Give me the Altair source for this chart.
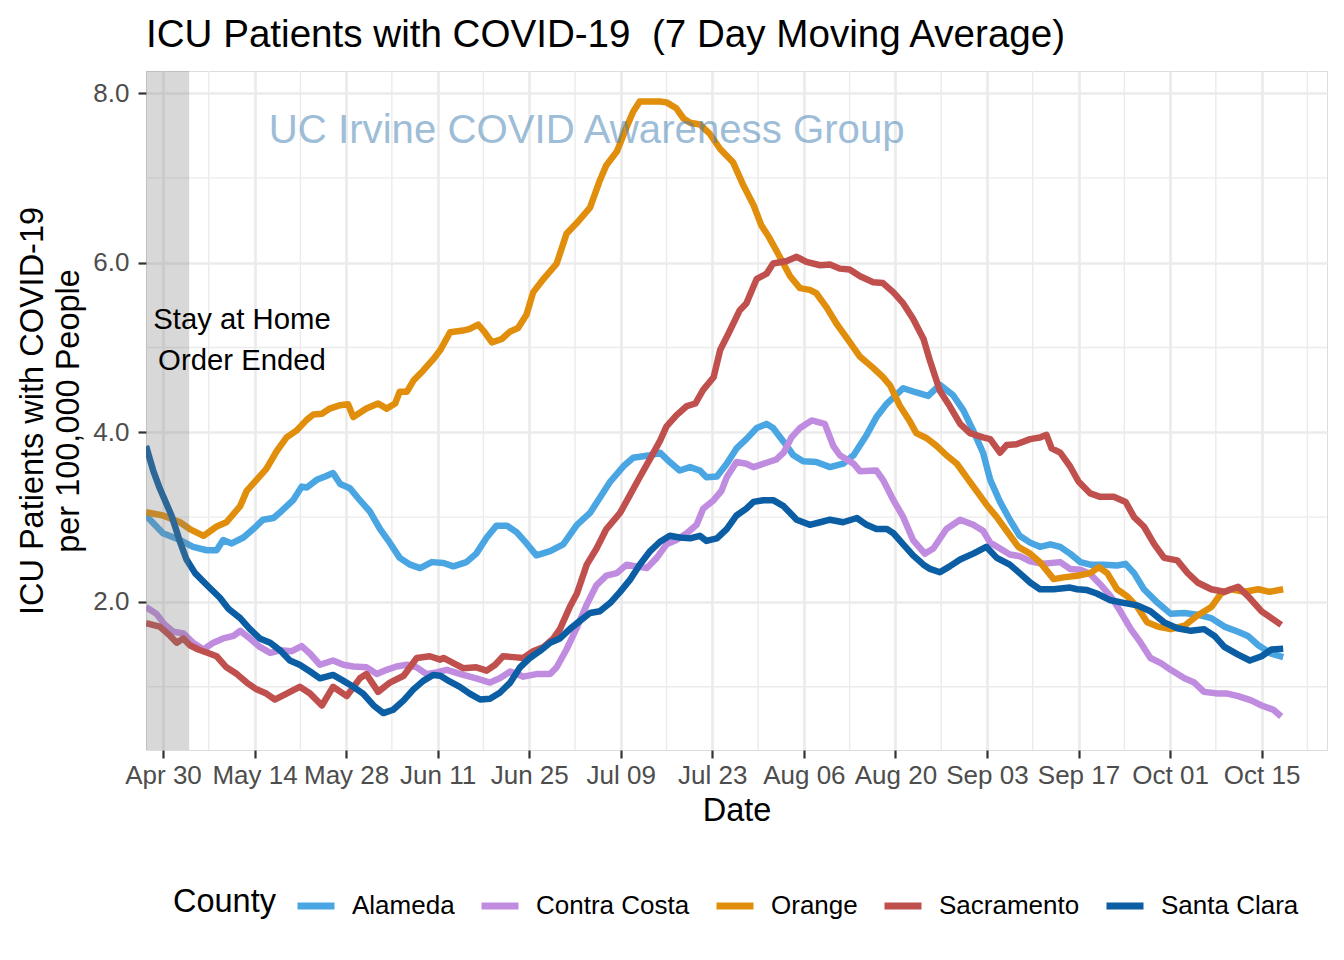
import altair as alt
import pandas as pd

BASE = pd.Timestamp("2020-04-30")

counties = ["Alameda", "Contra Costa", "Orange", "Sacramento", "Santa Clara"]
colors = ["#4AA5E3", "#C08CE0", "#E08E0B", "#C0504D", "#0B5EA3"]

# (days after Apr 30 2020, ICU patients per 100k, 7-day average)
alameda = [(-2.6, 3.02), (0.0, 2.81), (2.6, 2.73), (4.6, 2.65), (6.7, 2.61), (8.2, 2.61), (9.2, 2.73),
           (10.5, 2.69), (12.3, 2.76), (13.8, 2.86), (15.3, 2.97), (16.9, 2.99), (18.1, 3.07), (19.9, 3.2),
           (21.2, 3.36), (22.0, 3.35), (23.5, 3.44), (24.8, 3.48), (26.0, 3.52), (27.1, 3.39), (28.6, 3.34),
           (30.1, 3.2), (31.6, 3.07), (33.2, 2.86), (34.4, 2.73), (36.2, 2.52), (37.8, 2.44), (39.3, 2.4),
           (41.1, 2.47), (42.9, 2.46), (44.4, 2.42), (46.4, 2.47), (47.9, 2.57), (49.5, 2.76), (51.0, 2.9),
           (52.6, 2.9), (54.1, 2.82), (55.6, 2.69), (57.1, 2.55), (59.2, 2.6), (61.2, 2.68), (63.3, 2.91),
           (65.3, 3.05), (66.8, 3.23), (68.4, 3.42), (70.4, 3.6), (71.9, 3.7), (74.5, 3.73), (76.0, 3.76),
           (77.5, 3.65), (79.0, 3.55), (80.6, 3.59), (82.1, 3.55), (83.1, 3.47), (84.7, 3.48), (86.2, 3.63),
           (87.7, 3.81), (89.2, 3.92), (90.8, 4.05), (92.3, 4.1), (93.3, 4.05), (94.9, 3.89), (96.4, 3.73),
           (97.9, 3.66), (99.9, 3.65), (102.0, 3.59), (104.0, 3.63), (105.6, 3.73), (107.6, 3.97),
           (109.1, 4.18), (110.7, 4.34), (113.2, 4.52), (115.2, 4.47), (117.0, 4.43), (118.8, 4.56),
           (120.8, 4.44), (122.4, 4.26), (123.9, 4.02), (125.4, 3.76), (126.5, 3.44), (128.0, 3.18),
           (129.5, 2.97), (131.0, 2.78), (132.6, 2.7), (134.1, 2.65), (135.7, 2.68), (137.2, 2.65),
           (138.7, 2.57), (140.3, 2.47), (141.8, 2.44), (143.9, 2.44), (145.9, 2.43), (147.2, 2.45),
           (148.5, 2.34), (150.0, 2.15), (152.1, 1.99), (154.1, 1.86), (156.2, 1.87), (158.2, 1.85),
           (160.3, 1.81), (162.3, 1.71), (164.4, 1.65), (165.9, 1.6), (167.5, 1.49), (169.5, 1.39),
           (171.3, 1.35)]

contra_costa = [(-2.6, 1.94), (-1.0, 1.86), (0.3, 1.73), (1.6, 1.65), (3.1, 1.63), (4.6, 1.52), (6.2, 1.44),
                (7.7, 1.52), (9.2, 1.57), (10.8, 1.6), (11.8, 1.66), (13.3, 1.57), (14.8, 1.47), (16.4, 1.4),
                (17.9, 1.43), (19.7, 1.42), (21.2, 1.48), (22.5, 1.39), (24.0, 1.26), (26.0, 1.31),
                (27.6, 1.26), (29.1, 1.24), (31.1, 1.23), (32.7, 1.15), (34.2, 1.2), (35.7, 1.24),
                (37.3, 1.26), (38.8, 1.23), (40.3, 1.15), (41.8, 1.17), (43.4, 1.2), (45.9, 1.14),
                (47.9, 1.1), (50.0, 1.05), (51.5, 1.1), (53.1, 1.18), (55.1, 1.12), (57.1, 1.15),
                (59.2, 1.15), (60.2, 1.23), (61.7, 1.44), (63.3, 1.7), (64.8, 1.97), (66.3, 2.2),
                (67.8, 2.31), (69.4, 2.34), (70.9, 2.44), (72.4, 2.42), (74.0, 2.4), (75.5, 2.52),
                (77.0, 2.68), (78.5, 2.73), (80.1, 2.81), (81.6, 2.91), (82.6, 3.1), (84.2, 3.2),
                (85.4, 3.31), (86.2, 3.47), (87.7, 3.65), (89.2, 3.63), (90.3, 3.59), (91.8, 3.63),
                (93.8, 3.68), (94.9, 3.76), (96.1, 3.94), (97.4, 4.05), (99.2, 4.14), (101.2, 4.1),
                (102.5, 3.84), (103.5, 3.73), (105.6, 3.63), (106.6, 3.54), (109.1, 3.55), (110.1, 3.44),
                (111.7, 3.2), (113.2, 3.0), (114.7, 2.73), (116.5, 2.57), (117.8, 2.63), (119.8, 2.86),
                (121.9, 2.97), (123.9, 2.91), (125.4, 2.84), (126.5, 2.7), (128.0, 2.63), (129.5, 2.56),
                (131.0, 2.54), (132.6, 2.48), (134.6, 2.45), (137.2, 2.47), (138.7, 2.39), (140.3, 2.38),
                (141.8, 2.33), (143.3, 2.21), (144.9, 2.07), (146.4, 1.89), (148.0, 1.68), (149.5, 1.52),
                (151.0, 1.34), (152.6, 1.28), (154.1, 1.2), (156.2, 1.1), (157.7, 1.05), (159.2, 0.94),
                (161.3, 0.92), (162.8, 0.92), (164.4, 0.89), (166.4, 0.84), (168.0, 0.78), (169.8, 0.73),
                (171.0, 0.65)]

orange = [(-2.6, 3.06), (0.0, 3.02), (2.6, 2.94), (4.1, 2.86), (6.2, 2.78), (8.2, 2.89), (9.7, 2.94),
          (11.8, 3.13), (12.8, 3.31), (14.3, 3.44), (15.8, 3.57), (17.4, 3.78), (18.9, 3.94), (20.4, 4.02),
          (22.0, 4.15), (23.0, 4.21), (24.3, 4.22), (25.5, 4.28), (27.1, 4.32), (28.3, 4.33), (29.1, 4.18),
          (31.1, 4.28), (32.9, 4.34), (34.2, 4.28), (35.5, 4.34), (36.2, 4.48), (37.3, 4.48), (38.3, 4.61),
          (39.8, 4.73), (41.3, 4.86), (42.4, 4.97), (43.9, 5.18), (45.9, 5.2), (46.9, 5.22), (48.2, 5.27),
          (49.2, 5.18), (50.3, 5.06), (51.8, 5.1), (53.1, 5.19), (54.3, 5.23), (55.6, 5.39), (56.6, 5.65),
          (58.2, 5.81), (60.2, 5.99), (61.7, 6.34), (63.3, 6.47), (65.3, 6.65), (66.8, 6.97), (67.8, 7.15),
          (69.4, 7.31), (70.9, 7.6), (71.9, 7.78), (72.9, 7.9), (74.5, 7.9), (76.0, 7.9), (77.0, 7.89),
          (78.5, 7.82), (79.6, 7.7), (80.6, 7.65), (82.1, 7.63), (83.6, 7.52), (85.2, 7.34), (87.2, 7.18),
          (88.7, 6.92), (90.3, 6.68), (91.5, 6.44), (92.6, 6.31), (94.1, 6.1), (95.9, 5.84), (97.4, 5.7),
          (98.9, 5.68), (99.9, 5.64), (101.5, 5.47), (103.0, 5.28), (104.5, 5.12), (106.6, 4.89),
          (108.6, 4.76), (110.1, 4.65), (111.2, 4.55), (112.7, 4.31), (114.2, 4.13), (115.2, 3.99),
          (116.8, 3.93), (118.3, 3.84), (119.8, 3.73), (121.4, 3.63), (122.9, 3.47), (124.4, 3.31),
          (125.9, 3.15), (127.5, 3.0), (129.0, 2.84), (130.8, 2.65), (132.6, 2.57), (134.1, 2.47),
          (136.2, 2.27), (137.7, 2.29), (139.8, 2.31), (141.8, 2.34), (143.1, 2.41), (144.4, 2.34),
          (145.9, 2.15), (147.4, 2.07), (149.0, 1.94), (150.5, 1.76), (152.1, 1.71), (154.1, 1.68),
          (156.2, 1.72), (158.2, 1.84), (160.3, 1.94), (161.8, 2.1), (163.3, 2.15), (165.4, 2.12),
          (167.5, 2.15), (169.2, 2.12), (171.3, 2.15)]

sacramento = [(-2.6, 1.75), (-0.5, 1.71), (1.1, 1.6), (2.1, 1.52), (3.1, 1.57), (4.1, 1.49), (5.4, 1.44),
              (7.2, 1.39), (8.2, 1.36), (9.7, 1.23), (11.3, 1.15), (12.8, 1.05), (14.3, 0.97), (15.8, 0.92),
              (17.1, 0.85), (18.9, 0.92), (20.9, 1.0), (22.5, 0.92), (24.3, 0.78), (26.0, 1.0), (28.1, 0.89),
              (30.1, 1.1), (31.1, 1.15), (32.9, 0.94), (34.7, 1.05), (36.8, 1.13), (38.8, 1.34), (40.8, 1.36),
              (42.4, 1.32), (42.9, 1.34), (44.4, 1.28), (45.9, 1.22), (47.9, 1.23), (49.5, 1.19), (50.8, 1.26),
              (52.0, 1.36), (53.6, 1.35), (55.1, 1.34), (56.6, 1.42), (58.2, 1.47), (59.7, 1.57), (60.7, 1.68),
              (62.2, 1.94), (63.3, 2.1), (64.8, 2.44), (66.3, 2.63), (67.8, 2.86), (69.9, 3.05), (71.4, 3.26),
              (72.9, 3.47), (74.5, 3.69), (76.0, 3.9), (77.0, 4.07), (78.5, 4.2), (80.1, 4.31), (81.4, 4.34),
              (82.6, 4.5), (84.2, 4.65), (85.2, 4.97), (86.7, 5.2), (88.2, 5.44), (89.2, 5.52), (90.8, 5.81),
              (92.3, 5.87), (93.3, 5.99), (95.4, 6.02), (96.9, 6.07), (98.4, 6.01), (100.5, 5.97),
              (102.0, 5.98), (103.5, 5.93), (105.0, 5.92), (106.6, 5.84), (108.6, 5.77), (110.1, 5.76),
              (111.7, 5.65), (113.2, 5.52), (114.7, 5.34), (116.3, 5.1), (117.3, 4.84), (118.8, 4.49),
              (120.3, 4.31), (121.9, 4.1), (123.4, 3.99), (125.4, 3.94), (126.5, 3.92), (128.0, 3.76),
              (129.0, 3.85), (130.5, 3.86), (132.6, 3.92), (134.1, 3.94), (135.1, 3.97), (135.9, 3.81),
              (137.2, 3.76), (138.7, 3.6), (140.0, 3.42), (141.8, 3.28), (143.3, 3.24), (145.4, 3.24),
              (147.2, 3.18), (148.5, 3.0), (150.0, 2.89), (151.6, 2.68), (153.1, 2.52), (155.1, 2.49),
              (156.7, 2.34), (158.2, 2.23), (160.3, 2.15), (162.3, 2.12), (164.4, 2.18), (165.9, 2.07),
              (168.0, 1.89), (169.5, 1.81), (171.0, 1.73)]

santa_clara = [(-2.6, 3.84), (-1.5, 3.55), (-0.5, 3.34), (1.3, 3.02), (2.6, 2.71), (3.6, 2.5), (4.9, 2.34),
               (6.7, 2.2), (8.7, 2.05), (10.0, 1.92), (11.8, 1.81), (13.3, 1.68), (14.8, 1.57), (16.4, 1.52),
               (17.9, 1.43), (19.4, 1.31), (20.9, 1.26), (22.5, 1.18), (24.0, 1.1), (26.0, 1.14), (27.6, 1.07),
               (29.1, 1.0), (30.6, 0.92), (32.2, 0.78), (33.7, 0.69), (35.2, 0.73), (36.8, 0.84), (38.3, 0.97),
               (39.8, 1.07), (41.3, 1.14), (42.4, 1.13), (43.9, 1.06), (45.4, 1.0), (46.9, 0.92), (48.5, 0.85),
               (50.0, 0.86), (51.5, 0.93), (53.1, 1.05), (54.6, 1.23), (56.1, 1.34), (57.6, 1.42), (59.2, 1.52),
               (60.7, 1.57), (62.2, 1.68), (63.8, 1.78), (65.3, 1.87), (66.8, 1.89), (68.4, 1.99), (69.9, 2.12),
               (71.4, 2.26), (72.9, 2.44), (74.5, 2.6), (76.0, 2.71), (77.5, 2.78), (79.0, 2.76), (80.6, 2.75),
               (82.1, 2.78), (83.1, 2.72), (84.7, 2.75), (86.2, 2.86), (87.7, 3.02), (89.2, 3.1), (90.3, 3.18),
               (91.8, 3.2), (93.3, 3.2), (94.9, 3.13), (96.9, 2.97), (98.9, 2.91), (100.5, 2.94), (102.0, 2.97),
               (104.0, 2.94), (106.1, 2.99), (107.6, 2.91), (109.1, 2.86), (110.7, 2.86), (111.7, 2.81),
               (113.2, 2.68), (114.7, 2.55), (116.3, 2.44), (117.3, 2.39), (118.8, 2.35), (120.3, 2.42),
               (121.9, 2.5), (123.9, 2.57), (125.9, 2.65), (127.5, 2.52), (129.5, 2.44), (131.0, 2.34),
               (132.6, 2.23), (134.1, 2.15), (136.2, 2.15), (138.7, 2.17), (139.8, 2.15), (141.3, 2.14),
               (142.8, 2.1), (144.9, 2.02), (146.9, 1.99), (149.0, 1.96), (151.0, 1.89), (153.1, 1.76),
               (155.1, 1.69), (157.2, 1.66), (159.2, 1.68), (160.8, 1.6), (162.3, 1.47), (164.4, 1.38),
               (166.2, 1.31), (168.0, 1.36), (169.5, 1.44), (171.3, 1.45)]

series = {"Alameda": alameda, "Contra Costa": contra_costa, "Orange": orange,
          "Sacramento": sacramento, "Santa Clara": santa_clara}

# axis ticks (every 14 days from Apr 30) and minor grid (midpoints)
major_days = [14 * k for k in range(13)]
minor_days = [7 + 14 * k for k in range(13)]
y_major = [2, 4, 6, 8]
y_minor = [1, 3, 5, 7]

# stay-at-home shading: data start to May 4
shade_start_day, shade_end_day = -2.6, 4.0
x_domain_days = (-2.6, 178.0)
y_domain = (0.255, 8.26)


def ts(d):
    return (BASE + pd.to_timedelta(d, unit="D")).strftime("%Y-%m-%dT%H:%M:%S")


def dt(d):
    t = BASE + pd.to_timedelta(d, unit="D")
    return alt.DateTime(year=t.year, month=t.month, date=t.day, hours=t.hour, minutes=t.minute)


rows = []
for name, pts in series.items():
    for d, v in pts:
        rows.append({"date": ts(d), "value": v, "county": name})
df = pd.DataFrame(rows)

FONT = "Liberation Sans"
W, H = 1181, 679

xscale = alt.Scale(domain=[dt(x_domain_days[0]), dt(x_domain_days[1])])
yscale = alt.Scale(domain=list(y_domain), nice=False, zero=False)

minor_x = alt.Chart(pd.DataFrame({"date": [ts(d) for d in minor_days]})).mark_rule(
    color="#EBEBEB", strokeWidth=1.4).encode(x=alt.X("date:T", scale=xscale))
minor_y = alt.Chart(pd.DataFrame({"value": y_minor})).mark_rule(
    color="#EBEBEB", strokeWidth=1.4).encode(y=alt.Y("value:Q", scale=yscale))

lines = alt.Chart(df).mark_line(strokeWidth=6.5, strokeJoin="round", strokeCap="butt", clip=True).encode(
    x=alt.X("date:T", scale=xscale,
            axis=alt.Axis(values=[dt(d) for d in major_days], format="%b %d", title="Date",
                          grid=True, gridColor="#EBEBEB", gridWidth=2.7, domain=False,
                          tickColor="#333333", tickSize=8, tickWidth=2.2,
                          labelColor="#4D4D4D", labelFontSize=26, labelPadding=4, labelFont=FONT,
                          titleFont=FONT, titleFontSize=32.5, titleFontWeight="normal",
                          titleColor="black", titlePadding=6)),
    y=alt.Y("value:Q", scale=yscale,
            axis=alt.Axis(values=y_major, format=".1f",
                          title=["ICU Patients with COVID-19", "per 100,000 People"],
                          grid=True, gridColor="#EBEBEB", gridWidth=2.7, domain=False,
                          tickColor="#333333", tickSize=8, tickWidth=2.2,
                          labelColor="#4D4D4D", labelFontSize=26, labelPadding=9, labelFont=FONT,
                          titleFont=FONT, titleFontSize=32.5, titleFontWeight="normal",
                          titleColor="black", titlePadding=7, titleLineHeight=36)),
    color=alt.Color("county:N", scale=alt.Scale(domain=counties, range=colors),
                    legend=alt.Legend(title="County", orient="none", direction="horizontal",
                                      legendX=27, legendY=813, titleOrient="left",
                                      titleFont=FONT, titleFontSize=32.5, titleFontWeight="normal",
                                      titleColor="black", titlePadding=18,
                                      labelFont=FONT, labelFontSize=26, labelColor="black",
                                      symbolType="stroke", symbolStrokeWidth=7, symbolSize=1369,
                                      labelOffset=14, columnPadding=12)),
)

watermark = alt.Chart(pd.DataFrame({"date": [ts(64.8)], "value": [7.414],
                                    "label": ["UC Irvine COVID Awareness Group"]})).mark_text(
    font=FONT, fontSize=40.2, color="#4682B4", opacity=0.52, align="center", baseline="alphabetic"
).encode(x=alt.X("date:T", scale=xscale), y=alt.Y("value:Q", scale=yscale), text="label:N")

shade = alt.Chart(pd.DataFrame({"start": [ts(shade_start_day)], "end": [ts(shade_end_day)],
                                "lo": [y_domain[0]], "hi": [y_domain[1]]})).mark_rect(
    color="#7F7F7F", opacity=0.3).encode(
    x=alt.X("start:T", scale=xscale), x2="end:T",
    y=alt.Y("lo:Q", scale=yscale), y2="hi:Q")

note = alt.Chart(pd.DataFrame({"date": [ts(12.08)], "value": [5.325],
                               "label": ["Stay at Home\nOrder Ended"]})).mark_text(
    font=FONT, fontSize=29.3, color="black", align="center", baseline="middle",
    lineBreak="\n", lineHeight=41
).encode(x=alt.X("date:T", scale=xscale), y=alt.Y("value:Q", scale=yscale), text="label:N")

chart = alt.layer(minor_x, minor_y, lines, watermark, shade, note).properties(
    width=W, height=H,
    title=alt.TitleParams("ICU Patients with COVID-19 \u00a0(7 Day Moving Average)",
                          anchor="start", frame="group", font=FONT, fontSize=38.6,
                          fontWeight="normal", color="black", baseline="alphabetic",
                          offset=25, dy=40),
    autosize=alt.AutoSizeParams(type="none"),
    padding={"left": 138, "top": 63, "right": 9, "bottom": 200},
).configure_view(stroke="#333333", strokeWidth=1.8).configure(font=FONT)

chart.save("out.html", embed_options={"renderer": "svg", "actions": False})
